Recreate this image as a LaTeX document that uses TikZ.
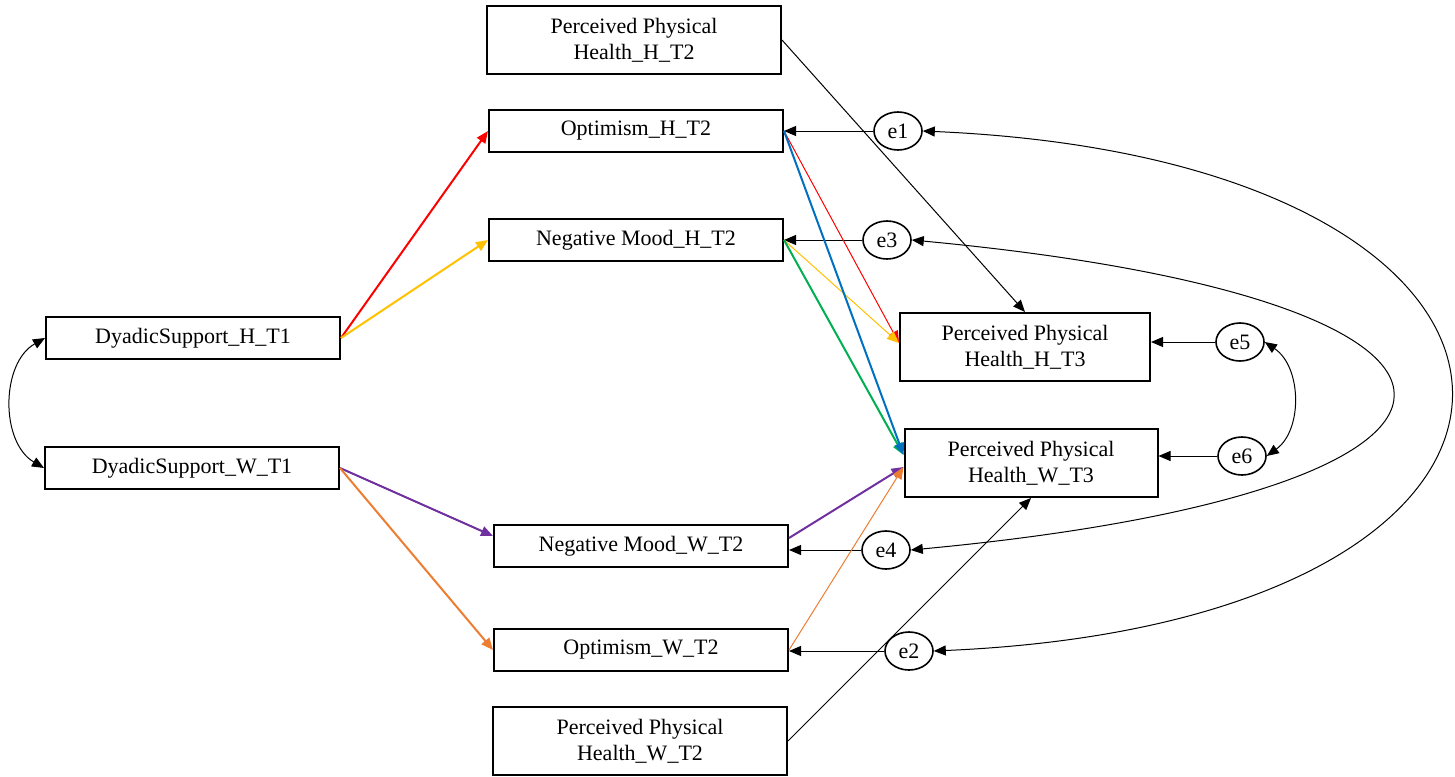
\documentclass[tikz,border=0pt]{standalone}
\usepackage{fontspec}
\setmainfont{Liberation Serif}
\usetikzlibrary{arrows.meta,shapes.geometric}
\definecolor{pathred}{RGB}{255,0,0}
\definecolor{pathgold}{RGB}{255,192,0}
\definecolor{pathblue}{RGB}{0,112,192}
\definecolor{pathgreen}{RGB}{0,176,80}
\definecolor{pathpurple}{RGB}{112,48,160}
\definecolor{pathorange}{RGB}{237,125,49}

\begin{document}
\begin{tikzpicture}[x=0.5pt,y=-0.5pt]
    \tikzset{block/.style={rectangle, draw, line width=1pt, minimum width=147pt, minimum height=21pt, align=center, inner sep=2pt, font=\fontsize{11}{13}\selectfont},
        bigblock/.style={block, minimum height=34pt},
        err/.style={ellipse, draw, line width=0.8pt, minimum width=24pt, minimum height=19pt, inner sep=0pt, font=\fontsize{11}{13}\selectfont},
        path/.style={-{Triangle[length=6pt,width=5pt]}, line width=0.5pt},
        cov/.style={{Triangle[length=6pt,width=5pt]}-{Triangle[length=6pt,width=5pt]}, line width=0.5pt}};
    \useasboundingbox (0,0) rectangle (1455,776);

    % observed variables
    \node[bigblock] (pphh2) at (634,40) {Perceived Physical\\Health\_H\_T2};
    \node[block] (opth) at (636,131) {Optimism\_H\_T2};
    \node[block] (negh) at (636,240) {Negative Mood\_H\_T2};
    \node[block] (dsh) at (193,338) {DyadicSupport\_H\_T1};
    \node[block] (dsw) at (192,468) {DyadicSupport\_W\_T1};
    \node[bigblock, minimum width=125pt] (pphh3) at (1025,347) {Perceived Physical\\Health\_H\_T3};
    \node[bigblock, minimum width=126.5pt] (pphw3) at (1031,463) {Perceived Physical\\Health\_W\_T3};
    \node[block] (negw) at (641,546) {Negative Mood\_W\_T2};
    \node[block] (optw) at (641,650) {Optimism\_W\_T2};
    \node[bigblock] (pphw2) at (640,741) {Perceived Physical\\Health\_W\_T2};

    % error terms
    \node[err] (e1) at (898,131) {e1};
    \node[err] (e3) at (887,240) {e3};
    \node[err] (e5) at (1240,342) {e5};
    \node[err] (e6) at (1242,456) {e6};
    \node[err] (e4) at (886,550) {e4};
    \node[err] (e2) at (909,651) {e2};

    \draw[path] (e1) -- (opth.east |- e1);
    \draw[path] (e3) -- (negh.east |- e3);
    \draw[path] (e5) -- (pphh3.east |- e5);
    \draw[path] (e6) -- (pphw3.east |- e6);
    \draw[path] (e4) -- (negw.east |- e4);
    \draw[path] (e2) -- (optw.east |- e2);

    % paths
    \draw[path, line width=1pt, pathred] (dsh.east) -- (opth.west);
    \draw[path, line width=1pt, pathgold] (dsh.east) -- (negh.west);
    \draw[path, line width=1pt, pathpurple] (dsw.east) -- ([yshift=5pt]negw.west);
    \draw[path, line width=1pt, pathorange] (dsw.east) -- (optw.west);
    \draw[path, pathred] (opth.east) -- ([yshift=2pt]pphh3.west);
    \draw[path, pathgold] (negh.east) -- ([yshift=2pt]pphh3.west);
    \draw[path, line width=1pt, pathgreen] (negh.east) -- ([yshift=4pt]pphw3.west);
    \draw[path, line width=1pt, pathblue] (opth.east) -- ([yshift=4pt]pphw3.west);
    \draw[path, line width=1pt, pathpurple] ([yshift=4pt]negw.east) -- ([yshift=-2pt]pphw3.west);
    \draw[path, pathorange] (optw.east) -- ([yshift=-2pt]pphw3.west);
    \draw[path] (pphh2.east) -- (pphh3.north);
    \draw[path] (pphw2.east) -- (pphw3.south);

    % covariances
    \draw[cov] (dsh.west) to[bend right=60] (dsw.west);
    \draw[cov] (e5.east) to[bend left=55] (e6.east);
    \draw[cov] (e3.east) .. controls +(640,60) and +(640,-60) .. (e4.east);
    \draw[cov] (e1.east) .. controls +(695,30) and +(695,-30) .. (e2.east);
\end{tikzpicture}
\end{document}
